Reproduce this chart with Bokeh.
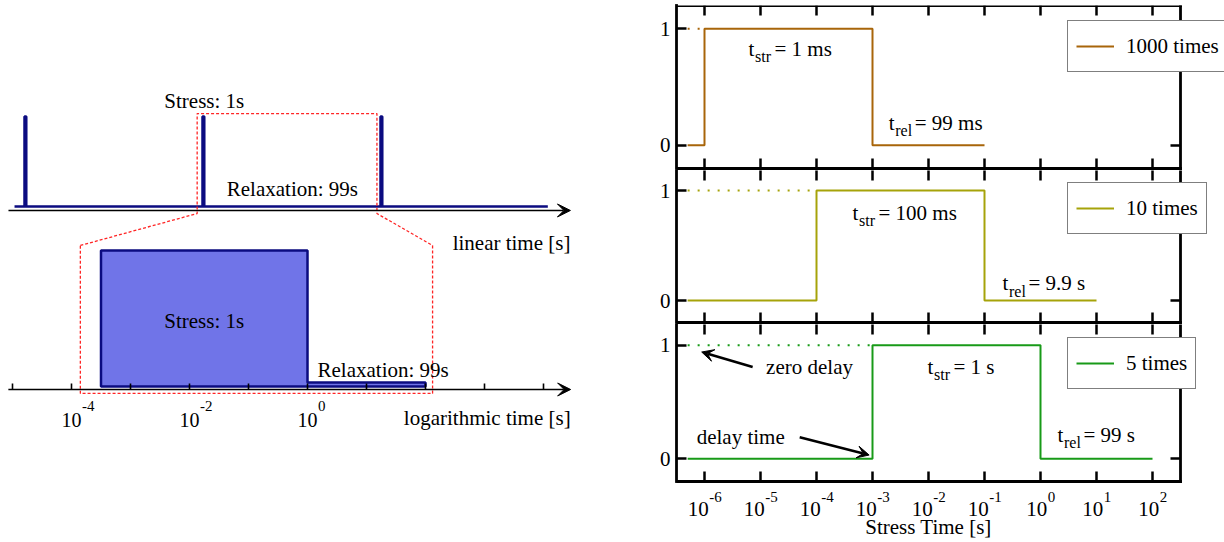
import numpy as np
from bokeh.plotting import figure
from bokeh.layouts import row, column
from bokeh.models import (Range1d, LogScale, LogAxis, LinearAxis, FixedTicker,
                          Arrow, VeeHead, Legend, LegendItem)
from bokeh.core.properties import value
from bokeh.embed import file_html
from bokeh.resources import INLINE

FONT = "Liberation Serif"
NAVY = "#0b0b80"
PULSE_FILL = "#7074e8"
ZOOM_RED = "#ff2424"

# ---------------- data ----------------
# pulse train on a linear time axis (left, top)
pulse_starts = [0.0, 100.0, 200.0]      # s
stress_len = 1.0                        # s
train_begin = -5.6                      # s
train_end = 294.0                       # s

# one stress/relaxation cycle on a logarithmic time axis (left, bottom)
cycle_from = 10 ** -3.5                 # s
stress_to = 1.0                         # s
relax_to = 100.0                        # s
relax_level = 0.03
cycle_tick_exp = [-5, -4, -3, -2, -1, 0, 1, 2, 3, 4]
cycle_label_exp = [-4, -2, 0]

# stress traces (right)
cycle_names = ["1000 times", "10 times", "5 times"]
cycle_colors = ["#a8650a", "#a6a30a", "#189a18"]
trace_begin = 5e-7
stress_on = [1e-6, 1e-4, 1e-3]
stress_off = [1e-3, 1e-1, 1e0]
relax_off = [1e-1, 1e1, 1e2]
stress_text = ["1 ms", "100 ms", "1 s"]
relax_text = ["99 ms", "9.9 s", "99 s"]
stress_tick_exp = [-6, -5, -4, -3, -2, -1, 0, 1, 2]


def txt(p, x, y, s, size="21px", align="left", baseline="middle", **kw):
    p.text(x=[x], y=[y], text=[s], text_font=value(FONT), text_font_size=size,
           text_align=align, text_baseline=baseline, text_color="black", **kw)


def exp_width(e):
    # approximate width of a 15px exponent
    return sum(5 if ch == "-" else 7.5 for ch in str(e))


def pow10_label(p, x, y, e, base_dy, exp_dy, base_size, base_w, centered, **kw):
    """Draw 10^e with a raised exponent below the point (x, y)."""
    if centered:
        right = (base_w - exp_width(e)) / 2.0
        txt(p, x, y, "10", size=base_size, align="right", baseline="alphabetic",
            x_offset=right, y_offset=base_dy, **kw)
    else:
        right = base_w / 2.0
        txt(p, x, y, "10", size=base_size, align="center", baseline="alphabetic",
            y_offset=base_dy, **kw)
    txt(p, x, y, str(e), size="15px", align="left", baseline="alphabetic",
        x_offset=right + 0.5, y_offset=exp_dy, **kw)


# ---------------- left: schematic ----------------
W_L, H = 640, 542
lin_px0, lin_scale = 24.0, 1.78        # canvas px of t = 0, px per second
up_base, up_unit = 206.0, 90.0         # canvas px of level 0, px per level unit
log_px0, log_dec = 307.0, 59.0         # canvas px of 10^0, px per decade
lo_base, lo_unit = 386.0, 136.0

left = figure(width=W_L, height=H, output_backend="svg", toolbar_location=None,
              x_axis_location=None, y_axis_location=None, min_border=0,
              x_range=Range1d(-lin_px0 / lin_scale, (W_L - lin_px0) / lin_scale),
              y_range=Range1d((up_base - H) / up_unit, up_base / up_unit))
left.extra_x_ranges = {"log": Range1d(10 ** (-log_px0 / log_dec), 10 ** ((W_L - log_px0) / log_dec))}
left.extra_x_scales = {"log": LogScale()}
left.extra_y_ranges = {"lower": Range1d((lo_base - H) / lo_unit, lo_base / lo_unit)}
left.outline_line_color = None
left.xgrid.visible = False
left.ygrid.visible = False

# pulse train
xs, ys = [train_begin], [0.0]
for s in pulse_starts:
    xs += [s, s, s + stress_len, s + stress_len]
    ys += [0.0, 1.0, 1.0, 0.0]
xs += [train_end]
ys += [0.0]
left.patch(xs, ys, fill_color=PULSE_FILL, line_color=NAVY, line_width=2.5)

# single cycle, log axis
left.patch([cycle_from, cycle_from, stress_to, stress_to, relax_to, relax_to],
           [0, 1, 1, relax_level, relax_level, 0],
           fill_color=PULSE_FILL, line_color=NAVY, line_width=2.5,
           x_range_name="log", y_range_name="lower")

# axis arrows
lin_axis = (-9.0, 306.7, -0.044)
log_axis = (10 ** -5.07, 10 ** 4.46, -0.022)
left.add_layout(Arrow(end=VeeHead(size=13, fill_color="black", line_color="black"),
                      x_start=lin_axis[0], x_end=lin_axis[1], y_start=lin_axis[2], y_end=lin_axis[2],
                      line_width=1.6, line_color="black"))
left.add_layout(Arrow(end=VeeHead(size=13, fill_color="black", line_color="black"),
                      x_start=log_axis[0], x_end=log_axis[1], y_start=log_axis[2], y_end=log_axis[2],
                      line_width=1.6, line_color="black", x_range_name="log", y_range_name="lower"))

cyc_ticks = [10.0 ** e for e in cycle_tick_exp]
log_ax = LogAxis(x_range_name="log", y_range_name="lower", fixed_location=log_axis[2],
                 ticker=FixedTicker(ticks=cyc_ticks, minor_ticks=[]),
                 major_tick_in=6, major_tick_out=0, minor_tick_in=0, minor_tick_out=0,
                 major_tick_line_width=1.6, major_tick_line_color="black", axis_line_color=None,
                 major_label_overrides={t: "" for t in cyc_ticks},
                 major_label_text_font_size="0px", major_label_standoff=0)
left.add_layout(log_ax, "below")
for e in cycle_label_exp:
    pow10_label(left, 10.0 ** e, log_axis[2], e, 31, 17, "20px", 20, False,
                x_range_name="log", y_range_name="lower")

# zoom window joining one period of the train to the log view
def log_to_lin(x):
    return (log_px0 + log_dec * np.log10(x) - lin_px0) / lin_scale


def lower_to_upper(y):
    return (up_base - (lo_base - lo_unit * y)) / up_unit


win_t = (97.0, 198.0)
win_up = (-0.078, 1.033)
win_log = (10 ** -3.85, 10 ** 2.12)
win_lo = (-0.051, 1.037)
zx = [log_to_lin(win_log[0]), win_t[0], win_t[0], win_t[1], win_t[1],
      log_to_lin(win_log[1]), log_to_lin(win_log[1]), log_to_lin(win_log[0])]
zy = [lower_to_upper(win_lo[1]), win_up[0], win_up[1], win_up[1], win_up[0],
      lower_to_upper(win_lo[1]), lower_to_upper(win_lo[0]), lower_to_upper(win_lo[0])]
left.patch(zx, zy, fill_color=None, line_color=ZOOM_RED, line_width=1.3, line_dash="3 2")

txt(left, 101.0, 1.17, "Stress: 1s", align="center")
txt(left, 150.5, 0.19, "Relaxation: 99s", align="center")
txt(left, lin_axis[1], -0.40, "linear time [s]", align="right")
txt(left, 10 ** -1.75, 0.478, "Stress: 1s", align="center", x_range_name="log", y_range_name="lower")
txt(left, 10 ** 0.17, 0.118, "Relaxation: 99s", x_range_name="log", y_range_name="lower")
txt(left, log_axis[1], -0.235, "logarithmic time [s]", align="right",
    x_range_name="log", y_range_name="lower")

# ---------------- right: stress traces ----------------
W_R = 584
BORDER_L = 36
DEC_PX = 56.0                           # px per decade
x_lo, x_hi = 10 ** -6.5, 10 ** 2.5
y_lo, y_hi = -0.2, 1.2
x_view_hi = 10 ** (np.log10(x_lo) + (W_R - BORDER_L) / DEC_PX)
dec_ticks = [10.0 ** e for e in stress_tick_exp]
box_h = [163, 154, 159]                 # px between y_lo and y_hi
panel_top = [5, 0, 0]
hidden_top = [0, 2, 2]                  # px of the box lying under the panel above
room_below = [2, 2, 61]                 # px below y_lo (separator / tick labels)
legend_vy = [98, 90, 153]
str_pos = [(10 ** -5.214, 0.83), (10 ** -3.357, 0.80), (10 ** -2.018, 0.81)]
rel_pos = [(10 ** -2.71, 0.195), (10 ** -0.679, 0.158), (10 ** 0.304, 0.21)]

frame_style = dict(major_tick_in=10, major_tick_out=0, minor_tick_in=0, minor_tick_out=0,
                   major_tick_line_width=2.5, major_tick_line_color="black",
                   axis_line_color="black", axis_line_width=2.8, axis_line_cap="square")


def blank_labels(ticks):
    return dict(major_label_overrides={t: "" for t in ticks},
                major_label_text_font_size="0px", major_label_standoff=0)


def sub_label(p, pos, sub, rest):
    x, y = pos
    txt(p, x, y, "t")
    txt(p, x, y, sub, size="16px", x_offset=6.5, y_offset=8)
    txt(p, x, y, "= " + rest, x_offset=26)


panels = []
for i in range(3):
    unit = box_h[i] / (y_hi - y_lo)
    y_view_lo = y_lo - room_below[i] / unit
    y_view_hi = y_hi - hidden_top[i] / unit
    h = panel_top[i] + box_h[i] - hidden_top[i] + room_below[i]
    p = figure(width=W_R, height=h, output_backend="svg", toolbar_location=None,
               x_axis_type="log", x_axis_location=None, y_axis_location=None,
               x_range=Range1d(x_lo, x_view_hi), y_range=Range1d(y_view_lo, y_view_hi),
               min_border_left=BORDER_L, min_border_right=0,
               min_border_top=panel_top[i], min_border_bottom=0)
    p.outline_line_color = None
    p.xgrid.visible = False
    p.ygrid.visible = False

    c = cycle_colors[i]
    r = p.line([trace_begin, stress_on[i], stress_on[i], stress_off[i], stress_off[i], relax_off[i]],
               [0, 0, 1, 1, 0, 0], line_color=c, line_width=2)
    p.line([trace_begin, stress_on[i]], [1, 1], line_color=c, line_width=2, line_dash="2 8")

    yt = [0, 1]
    p.add_layout(LinearAxis(ticker=FixedTicker(ticks=yt, minor_ticks=[]), bounds=(y_lo, y_hi),
                            major_label_text_font=FONT, major_label_text_font_size="21px",
                            major_label_text_color="black", major_label_standoff=6,
                            **frame_style), "left")
    p.add_layout(LinearAxis(ticker=FixedTicker(ticks=yt, minor_ticks=[]), bounds=(y_lo, y_hi),
                            fixed_location=x_hi, **blank_labels(yt), **frame_style), "right")
    top_style = dict(frame_style)
    if hidden_top[i]:
        # the separator line is drawn by the panel above
        top_style["axis_line_color"] = None
        top_style["major_tick_in"] = 10 + hidden_top[i]
    p.add_layout(LogAxis(ticker=FixedTicker(ticks=dec_ticks, minor_ticks=[]), bounds=(x_lo, x_hi),
                         fixed_location=y_hi, **blank_labels(dec_ticks), **top_style), "above")
    p.add_layout(LogAxis(ticker=FixedTicker(ticks=dec_ticks, minor_ticks=[]), bounds=(x_lo, x_hi),
                         fixed_location=y_lo, **blank_labels(dec_ticks), **frame_style), "below")

    sub_label(p, str_pos[i], "str", stress_text[i])
    sub_label(p, rel_pos[i], "rel", relax_text[i])

    leg = Legend(items=[LegendItem(label=cycle_names[i], renderers=[r])],
                 location=(391, legend_vy[i]), margin=0, padding=8, spacing=0,
                 glyph_width=38, glyph_height=20, label_standoff=12, label_height=34,
                 label_text_font=FONT, label_text_font_size="21px", label_text_color="black",
                 border_line_color="black", border_line_width=1.3,
                 background_fill_color="white", background_fill_alpha=1.0)
    p.add_layout(leg)
    panels.append(p)

p3 = panels[2]
for t, e in zip(dec_ticks, stress_tick_exp):
    pow10_label(p3, t, y_lo, e, 27, 15, "21px", 21, True)
txt(p3, np.sqrt(x_lo * x_hi), y_lo, "Stress Time [s]", align="center", baseline="alphabetic",
    y_offset=45)

head = dict(size=12, fill_color="black", line_color="black")
p3.add_layout(Arrow(end=VeeHead(**head), x_start=10 ** -5.14, y_start=0.808,
                    x_end=10 ** -6.05, y_end=0.94, line_width=2.5, line_color="black"))
p3.add_layout(Arrow(end=VeeHead(**head), x_start=10 ** -4.30, y_start=0.19,
                    x_end=10 ** -3.06, y_end=0.033, line_width=2.5, line_color="black"))
txt(p3, 10 ** -4.9, 0.81, "zero delay")
txt(p3, 10 ** -6.14, 0.19, "delay time")

layout = row(left, column(*panels, spacing=0), spacing=0)
open("out.html", "w").write(file_html(layout, INLINE))
